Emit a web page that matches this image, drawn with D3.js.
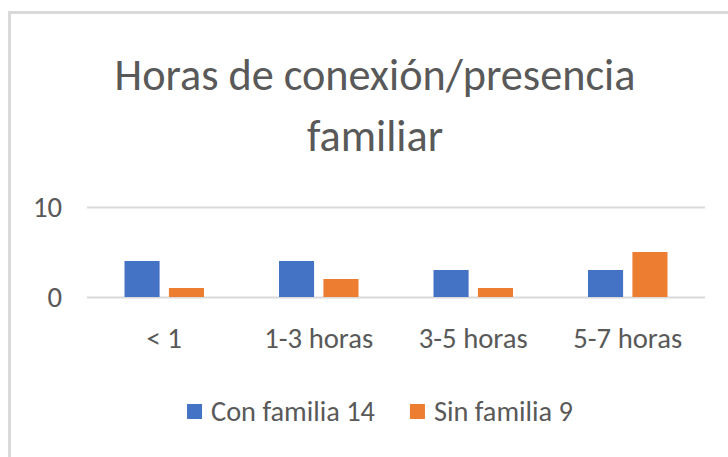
<script src="https://d3js.org/d3.v7.min.js"></script>
<style type="text/css">
  body { margin: 0; background: #fff; }
  svg { display: block; }
  text { font-family: Carlito, "Liberation Sans Narrow", "Open Sans", sans-serif; fill: #595959; }
  .grid line { stroke: #d9d9d9; stroke-width: 2; }
</style>

<body></body>

<script>
  // data
  var categories = ['< 1', '1-3 horas', '3-5 horas', '5-7 horas'];
  var series = ['Con familia 14', 'Sin familia 9'];
  var conFamilia = [4, 4, 3, 3];
  var sinFamilia = [1, 2, 1, 5];
  var yTicks = [0, 10];
  var titleLines = ['Horas de conexión/presencia', 'familiar'];
  var colors = ['#4472C4', '#ED7D31'];

  // properties
  var width = 728;
  var height = 457;
  var svg = d3.select('body').append('svg')
    .attr('width', width)
    .attr('height', height);

  // chart border
  svg.append('rect')
    .attr('x', 9.5).attr('y', 12.5)
    .attr('width', 740).attr('height', 470)
    .attr('fill', '#fff')
    .attr('stroke', '#d9d9d9')
    .attr('stroke-width', 3);

  // font size that makes a string a given width
  function fitSize(str, target) {
    var t = svg.append('text').attr('font-size', 100).text(str);
    var len = t.node().getComputedTextLength();
    t.remove();
    return 100 * target / len;
  }
  var titleSize = fitSize(titleLines[0], 521);
  var labelSize = fitSize('5-7 horas', 109);
  var legendSize = fitSize(series[0], 164);

  // scales
  var x0 = d3.scaleBand().domain(categories).range([87, 705]);
  var x1 = d3.scaleBand().domain(series).range([37.5, 117]).paddingInner(0.21);
  var y = d3.scaleLinear().domain([0, 10]).range([297, 207]);
  var color = d3.scaleOrdinal().domain(series).range(colors);

  // title
  svg.append('g').selectAll('text')
    .data(titleLines)
    .enter().append('text')
    .attr('x', 375)
    .attr('y', function(d, i) {return 90 + i * 61})
    .attr('text-anchor', 'middle')
    .attr('font-size', titleSize)
    .text(function(d) {return d});

  // gridlines + y labels
  var yAxis = svg.append('g')
    .attr('class', 'grid')
    .attr('transform', 'translate(87,0)')
    .call(d3.axisLeft(y).tickValues(yTicks).tickSize(-618).tickPadding(25));
  yAxis.select('.domain').remove();
  yAxis.selectAll('text')
    .attr('font-size', labelSize)
    .attr('fill', '#595959')
    .style('font-family', null);

  // bars
  var rows = categories.map(function(c, i) {
    return {cat: c, values: [conFamilia[i], sinFamilia[i]]};
  });
  var groups = svg.append('g').selectAll('g')
    .data(rows)
    .enter().append('g')
    .attr('transform', function(d) {return 'translate(' + x0(d.cat) + ',0)'});
  groups.selectAll('rect')
    .data(function(d) {return d.values.map(function(v, j) {return {s: series[j], v: v}})})
    .enter().append('rect')
    .attr('x', function(d) {return x1(d.s)})
    .attr('width', x1.bandwidth())
    .attr('y', function(d) {return y(d.v)})
    .attr('height', function(d) {return y(0) - y(d.v)})
    .attr('fill', function(d) {return color(d.s)});

  // category labels
  svg.append('g').selectAll('text')
    .data(categories)
    .enter().append('text')
    .attr('x', function(d) {return x0(d) + x0.bandwidth() / 2})
    .attr('y', 348)
    .attr('text-anchor', 'middle')
    .attr('font-size', labelSize)
    .text(function(d) {return d});

  // legend, centred
  var legend = svg.append('g');
  var items = legend.selectAll('g')
    .data(series)
    .enter().append('g');
  items.append('rect')
    .attr('width', 15).attr('height', 15)
    .attr('y', 404)
    .attr('fill', function(d) {return color(d)});
  items.append('text')
    .attr('x', 24)
    .attr('y', 421)
    .attr('font-size', legendSize)
    .text(function(d) {return d});
  var offset = 0;
  items.each(function() {
    var w = this.getBBox().width;
    d3.select(this).attr('data-x', offset);
    offset += w + 35;
  });
  var total = offset - 35;
  var start = 380 - total / 2;
  items.attr('transform', function() {
    return 'translate(' + (start + +this.getAttribute('data-x')) + ',0)';
  });
</script>
